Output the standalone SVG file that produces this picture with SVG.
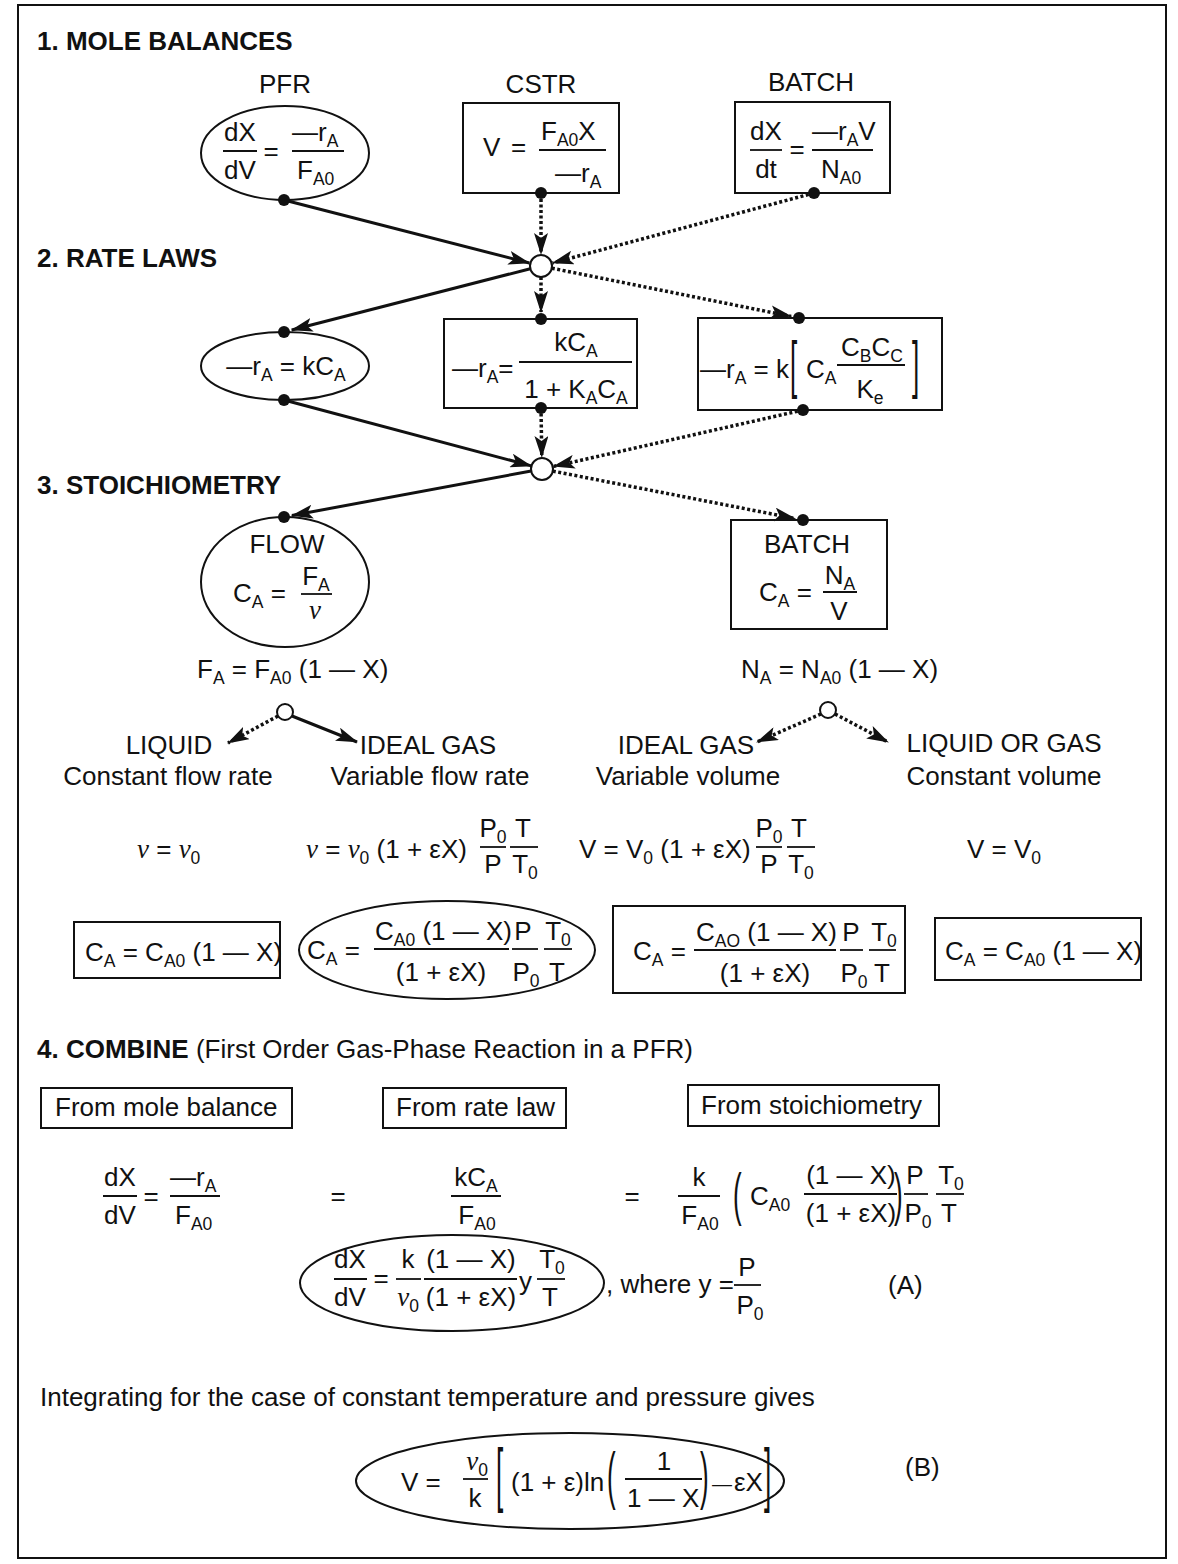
<svg xmlns="http://www.w3.org/2000/svg" width="1178" height="1564" viewBox="0 0 1178 1564">
<style>
text{font-family:"Liberation Sans",Arial,sans-serif;font-size:26px;fill:#111}
.b{font-weight:bold}
.m{text-anchor:middle}
.s{font-size:17.5px}
.v{font-family:"Liberation Serif","Times New Roman",serif;font-style:italic;font-size:27px}
.ln{stroke:#111;stroke-width:2;fill:none}
.fr{stroke:#111;stroke-width:1.8}
.sol{stroke:#111;stroke-width:3;fill:none}
.dot{stroke:#111;stroke-width:3.5;stroke-dasharray:3 2.5;fill:none}
.jn{fill:#fff;stroke:#111;stroke-width:2}
.pt{fill:#111}
</style>
<defs>
<marker id="ah" viewBox="0 0 22 14" refX="21" refY="7" markerWidth="22" markerHeight="14" markerUnits="userSpaceOnUse" orient="auto">
<path d="M0,0 L22,7 L0,14 L5,7 z" fill="#111"/>
</marker>
</defs>
<rect x="0" y="0" width="1178" height="1564" fill="#fff"/>
<rect x="18" y="5" width="1148" height="1553" class="ln"/>

<g id="headers">
<text class="b" x="37" y="50">1. MOLE BALANCES</text>
<text class="b" x="37" y="267">2. RATE LAWS</text>
<text class="b" x="37" y="494">3. STOICHIOMETRY</text>
<text x="37" y="1058"><tspan class="b">4. COMBINE</tspan> (First Order Gas-Phase Reaction in a PFR)</text>
</g>

<g id="connectors">
<line class="sol" x1="284" y1="200" x2="529.4" y2="263" marker-end="url(#ah)"/>
<line class="dot" x1="541" y1="199" x2="541" y2="254" marker-end="url(#ah)"/>
<line class="dot" x1="814" y1="193" x2="552.6" y2="262.9" marker-end="url(#ah)"/>
<line class="sol" x1="530.3" y1="268.7" x2="291.7" y2="330" marker-end="url(#ah)"/>
<line class="dot" x1="541" y1="277" x2="541" y2="312" marker-end="url(#ah)"/>
<line class="dot" x1="551.8" y1="268.2" x2="791.2" y2="316.4" marker-end="url(#ah)"/>
<line class="sol" x1="284" y1="400" x2="531.4" y2="465.9" marker-end="url(#ah)"/>
<line class="dot" x1="541" y1="408" x2="541.8" y2="457" marker-end="url(#ah)"/>
<line class="dot" x1="803" y1="410" x2="553.7" y2="466.4" marker-end="url(#ah)"/>
<line class="sol" x1="531.2" y1="471" x2="291.9" y2="515.5" marker-end="url(#ah)"/>
<line class="dot" x1="552.8" y1="471.1" x2="795.1" y2="518.5" marker-end="url(#ah)"/>
<line class="dot" x1="278" y1="716" x2="228" y2="743" marker-end="url(#ah)"/>
<line class="sol" x1="292" y1="716" x2="357" y2="742" marker-end="url(#ah)"/>
<line class="dot" x1="821" y1="714" x2="757" y2="742" marker-end="url(#ah)"/>
<line class="dot" x1="835" y1="714" x2="888" y2="742" marker-end="url(#ah)"/>
</g>

<g id="mb-pfr">
<text class="m" x="285" y="93">PFR</text>
<ellipse cx="285" cy="153" rx="84" ry="47" class="ln"/>
<text class="m" x="240" y="141">dX</text>
<line x1="223" y1="151" x2="257" y2="151" class="fr"/>
<text class="m" x="240" y="179">dV</text>
<text class="m" x="271" y="160">=</text>
<text x="292" y="141">—r<tspan class="s" dy="6">A</tspan></text>
<line x1="292" y1="151" x2="344" y2="151" class="fr"/>
<text x="297" y="179">F<tspan class="s" dy="6">A0</tspan></text>
<circle cx="284" cy="200" r="6" class="pt"/>
</g>

<g id="mb-cstr">
<text class="m" x="541" y="93">CSTR</text>
<rect x="463" y="103" width="156" height="90" class="ln"/>
<text x="483" y="156">V</text>
<text x="511" y="156">=</text>
<text x="541" y="140">F<tspan class="s" dy="6">A0</tspan><tspan dy="-6">X</tspan></text>
<line x1="539" y1="150" x2="606" y2="150" class="fr"/>
<text x="555" y="182">—r<tspan class="s" dy="6">A</tspan></text>
<circle cx="541" cy="193" r="6" class="pt"/>
</g>

<g id="mb-batch">
<text class="m" x="811" y="91">BATCH</text>
<rect x="735" y="102" width="155" height="91" class="ln"/>
<text class="m" x="766" y="140">dX</text>
<line x1="750" y1="150" x2="782" y2="150" class="fr"/>
<text class="m" x="766" y="178">dt</text>
<text class="m" x="797" y="158">=</text>
<text x="812" y="140">—r<tspan class="s" dy="6">A</tspan><tspan dy="-6">V</tspan></text>
<line x1="812" y1="150" x2="873" y2="150" class="fr"/>
<text x="821" y="178">N<tspan class="s" dy="6">A0</tspan></text>
<circle cx="814" cy="193" r="6" class="pt"/>
</g>

<g id="junction-1"><circle cx="541" cy="266" r="11" class="jn"/></g>

<g id="rl-first">
<ellipse cx="285" cy="366" rx="84" ry="34" class="ln"/>
<text class="m" x="286" y="375">—r<tspan class="s" dy="6">A</tspan><tspan dy="-6"> = kC</tspan><tspan class="s" dy="6">A</tspan></text>
<circle cx="284" cy="332" r="6" class="pt"/>
<circle cx="284" cy="400" r="6" class="pt"/>
</g>

<g id="rl-langmuir">
<rect x="444" y="319" width="193" height="89" class="ln"/>
<text x="452" y="377">—r<tspan class="s" dy="6">A</tspan><tspan dy="-6">=</tspan></text>
<text class="m" x="576" y="351">kC<tspan class="s" dy="6">A</tspan></text>
<line x1="519" y1="362" x2="632" y2="362" class="fr"/>
<text class="m" x="576" y="398">1 + K<tspan class="s" dy="6">A</tspan><tspan dy="-6">C</tspan><tspan class="s" dy="6">A</tspan></text>
<circle cx="541" cy="319" r="6" class="pt"/>
<circle cx="541" cy="408" r="6" class="pt"/>
</g>

<g id="rl-reversible">
<rect x="698" y="318" width="244" height="92" class="ln"/>
<text x="700" y="378">—r<tspan class="s" dy="6">A</tspan><tspan dy="-6"> = k</tspan></text>
<text transform="translate(790,386) scale(1,2.45)">[</text>
<text x="806" y="378">C<tspan class="s" dy="6">A</tspan></text>
<line x1="837" y1="365" x2="905" y2="365" class="fr"/>
<text class="m" x="872" y="356">C<tspan class="s" dy="6">B</tspan><tspan dy="-6">C</tspan><tspan class="s" dy="6">C</tspan></text>
<text class="m" x="870" y="398">K<tspan class="s" dy="6">e</tspan></text>
<text transform="translate(912,386) scale(1,2.45)">]</text>
<circle cx="799" cy="318" r="6" class="pt"/>
<circle cx="803" cy="410" r="6" class="pt"/>
</g>

<g id="junction-2"><circle cx="542" cy="469" r="11" class="jn"/></g>

<g id="st-flow">
<ellipse cx="285" cy="582" rx="84" ry="65" class="ln"/>
<text class="m" x="287" y="553">FLOW</text>
<text x="233" y="602">C<tspan class="s" dy="6">A</tspan><tspan dy="-6"> =</tspan></text>
<text class="m" x="316" y="585">F<tspan class="s" dy="6">A</tspan></text>
<line x1="301" y1="594" x2="332" y2="594" class="fr"/>
<text class="m v" x="315" y="619">v</text>
<circle cx="284" cy="517" r="6" class="pt"/>
<text x="197" y="678">F<tspan class="s" dy="6">A</tspan><tspan dy="-6"> = F</tspan><tspan class="s" dy="6">A0</tspan><tspan dy="-6"> (1 — X)</tspan></text>
</g>

<g id="st-batch">
<rect x="731" y="520" width="156" height="109" class="ln"/>
<text class="m" x="807" y="553">BATCH</text>
<text x="759" y="601">C<tspan class="s" dy="6">A</tspan><tspan dy="-6"> =</tspan></text>
<text class="m" x="840" y="584">N<tspan class="s" dy="6">A</tspan></text>
<line x1="823" y1="592" x2="857" y2="592" class="fr"/>
<text class="m" x="839" y="620">V</text>
<circle cx="803" cy="520" r="6" class="pt"/>
<text x="741" y="678">N<tspan class="s" dy="6">A</tspan><tspan dy="-6"> = N</tspan><tspan class="s" dy="6">A0</tspan><tspan dy="-6"> (1 — X)</tspan></text>
</g>

<g id="junction-3"><circle cx="285" cy="712" r="8" class="jn"/></g>
<g id="junction-4"><circle cx="828" cy="710" r="8" class="jn"/></g>

<g id="liquid-flow">
<text class="m" x="169" y="754">LIQUID</text>
<text class="m" x="168" y="785">Constant flow rate</text>
<text x="137" y="858"><tspan class="v">v</tspan> = <tspan class="v">v</tspan><tspan class="s" dy="6">0</tspan></text>
<rect x="74" y="922" width="206" height="56" class="ln"/>
<text x="85" y="961">C<tspan class="s" dy="6">A</tspan><tspan dy="-6"> = C</tspan><tspan class="s" dy="6">A0</tspan><tspan dy="-6"> (1 — X)</tspan></text>
</g>

<g id="gas-flow">
<text class="m" x="428" y="754">IDEAL GAS</text>
<text class="m" x="430" y="785">Variable flow rate</text>
<text x="306" y="858"><tspan class="v">v</tspan> = <tspan class="v">v</tspan><tspan class="s" dy="6">0</tspan><tspan dy="-6"> (1 + εX)</tspan></text>
<text class="m" x="493" y="837">P<tspan class="s" dy="6">0</tspan></text>
<line x1="480" y1="847" x2="506" y2="847" class="fr"/>
<text class="m" x="493" y="873">P</text>
<text class="m" x="523" y="837">T</text>
<line x1="510" y1="847" x2="538" y2="847" class="fr"/>
<text class="m" x="525" y="873">T<tspan class="s" dy="6">0</tspan></text>
<ellipse cx="447" cy="950" rx="148" ry="49" class="ln"/>
<text x="307" y="959">C<tspan class="s" dy="6">A</tspan><tspan dy="-6"> =</tspan></text>
<text x="375" y="940">C<tspan class="s" dy="6">A0</tspan><tspan dy="-6"> (1 — X)</tspan></text>
<line x1="374" y1="949" x2="509" y2="949" class="fr"/>
<text class="m" x="441" y="981">(1 + εX)</text>
<text class="m" x="523" y="940">P</text>
<line x1="512" y1="949" x2="538" y2="949" class="fr"/>
<text class="m" x="526" y="981">P<tspan class="s" dy="6">0</tspan></text>
<text class="m" x="558" y="940">T<tspan class="s" dy="6">0</tspan></text>
<line x1="544" y1="949" x2="572" y2="949" class="fr"/>
<text class="m" x="557" y="981">T</text>
</g>

<g id="gas-batch">
<text class="m" x="686" y="754">IDEAL GAS</text>
<text class="m" x="688" y="785">Variable volume</text>
<text x="579" y="858">V = V<tspan class="s" dy="6">0</tspan><tspan dy="-6"> (1 + εX)</tspan></text>
<text class="m" x="769" y="837">P<tspan class="s" dy="6">0</tspan></text>
<line x1="756" y1="847" x2="782" y2="847" class="fr"/>
<text class="m" x="769" y="873">P</text>
<text class="m" x="799" y="837">T</text>
<line x1="787" y1="847" x2="815" y2="847" class="fr"/>
<text class="m" x="801" y="873">T<tspan class="s" dy="6">0</tspan></text>
<rect x="613" y="906" width="292" height="87" class="ln"/>
<text x="633" y="960">C<tspan class="s" dy="6">A</tspan><tspan dy="-6"> =</tspan></text>
<text x="696" y="941">C<tspan class="s" dy="6">AO</tspan><tspan dy="-6"> (1 — X)</tspan></text>
<line x1="694" y1="950" x2="836" y2="950" class="fr"/>
<text class="m" x="765" y="982">(1 + εX)</text>
<text class="m" x="851" y="941">P</text>
<line x1="840" y1="950" x2="863" y2="950" class="fr"/>
<text class="m" x="854" y="982">P<tspan class="s" dy="6">0</tspan></text>
<text class="m" x="884" y="941">T<tspan class="s" dy="6">0</tspan></text>
<line x1="869" y1="950" x2="896" y2="950" class="fr"/>
<text class="m" x="882" y="982">T</text>
</g>

<g id="liquid-batch">
<text class="m" x="1004" y="752">LIQUID OR GAS</text>
<text class="m" x="1004" y="785">Constant volume</text>
<text x="967" y="858">V = V<tspan class="s" dy="6">0</tspan></text>
<rect x="935" y="918" width="206" height="62" class="ln"/>
<text x="945" y="960">C<tspan class="s" dy="6">A</tspan><tspan dy="-6"> = C</tspan><tspan class="s" dy="6">A0</tspan><tspan dy="-6"> (1 — X)</tspan></text>
</g>

<g id="from-mole-balance">
<rect x="41" y="1088" width="251" height="40" class="ln"/>
<text x="55" y="1116">From mole balance</text>
</g>
<g id="from-rate-law">
<rect x="383" y="1088" width="183" height="40" class="ln"/>
<text x="396" y="1116">From rate law</text>
</g>
<g id="from-stoichiometry">
<rect x="688" y="1085" width="251" height="41" class="ln"/>
<text x="701" y="1114">From stoichiometry</text>
</g>

<g id="combine-row">
<text class="m" x="120" y="1186">dX</text>
<line x1="103" y1="1196" x2="137" y2="1196" class="fr"/>
<text class="m" x="120" y="1224">dV</text>
<text class="m" x="151" y="1205">=</text>
<text x="170" y="1186">—r<tspan class="s" dy="6">A</tspan></text>
<line x1="170" y1="1196" x2="220" y2="1196" class="fr"/>
<text x="175" y="1224">F<tspan class="s" dy="6">A0</tspan></text>
<text class="m" x="338" y="1205">=</text>
<text class="m" x="476" y="1186">kC<tspan class="s" dy="6">A</tspan></text>
<line x1="451" y1="1196" x2="501" y2="1196" class="fr"/>
<text class="m" x="477" y="1224">F<tspan class="s" dy="6">A0</tspan></text>
<text class="m" x="632" y="1205">=</text>
<text class="m" x="699" y="1186">k</text>
<line x1="678" y1="1196" x2="720" y2="1196" class="fr"/>
<text class="m" x="700" y="1224">F<tspan class="s" dy="6">A0</tspan></text>
<text transform="translate(733,1214) scale(1,2.2)">(</text>
<text x="750" y="1205">C<tspan class="s" dy="6">A0</tspan></text>
<text class="m" x="851" y="1184">(1 — X)</text>
<line x1="804" y1="1194" x2="897" y2="1194" class="fr"/>
<text class="m" x="851" y="1222">(1 + εX)</text>
<text transform="translate(894,1214) scale(1,2.2)">)</text>
<text class="m" x="915" y="1184">P</text>
<line x1="904" y1="1194" x2="928" y2="1194" class="fr"/>
<text class="m" x="918" y="1222">P<tspan class="s" dy="6">0</tspan></text>
<text class="m" x="951" y="1184">T<tspan class="s" dy="6">0</tspan></text>
<line x1="936" y1="1194" x2="964" y2="1194" class="fr"/>
<text class="m" x="949" y="1222">T</text>
</g>

<g id="equation-a">
<ellipse cx="452" cy="1283" rx="152" ry="48" class="ln"/>
<text class="m" x="350" y="1268">dX</text>
<line x1="334" y1="1279" x2="367" y2="1279" class="fr"/>
<text class="m" x="350" y="1306">dV</text>
<text class="m" x="381" y="1287">=</text>
<text class="m" x="408" y="1268">k</text>
<line x1="396" y1="1279" x2="421" y2="1279" class="fr"/>
<text class="m" x="408" y="1306"><tspan class="v">v</tspan><tspan class="s" dy="6">0</tspan></text>
<text class="m" x="471" y="1268">(1 — X)</text>
<line x1="424" y1="1279" x2="517" y2="1279" class="fr"/>
<text class="m" x="471" y="1306">(1 + εX)</text>
<text x="519" y="1290">y</text>
<text class="m" x="552" y="1268">T<tspan class="s" dy="6">0</tspan></text>
<line x1="537" y1="1279" x2="565" y2="1279" class="fr"/>
<text class="m" x="550" y="1306">T</text>
<text x="606" y="1293">, where y =</text>
<text class="m" x="747" y="1276">P</text>
<line x1="734" y1="1285" x2="761" y2="1285" class="fr"/>
<text class="m" x="750" y="1314">P<tspan class="s" dy="6">0</tspan></text>
<text x="888" y="1294">(A)</text>
</g>

<text id="integrating" x="40" y="1406">Integrating for the case of constant temperature and pressure gives</text>

<g id="equation-b">
<ellipse cx="570" cy="1481" rx="214" ry="48" class="ln"/>
<text x="401" y="1491">V =</text>
<text class="m" x="477" y="1470"><tspan class="v">v</tspan><tspan class="s" dy="6">0</tspan></text>
<line x1="463" y1="1479" x2="488" y2="1479" class="fr"/>
<text class="m" x="475" y="1507">k</text>
<text transform="translate(496,1498) scale(1,2.7)">[</text>
<text x="511" y="1491">(1 + ε)ln</text>
<text transform="translate(607,1497) scale(1,2.45)">(</text>
<text class="m" x="664" y="1470">1</text>
<line x1="625" y1="1479" x2="702" y2="1479" class="fr"/>
<text x="627" y="1507">1 — X</text>
<text transform="translate(700,1497) scale(1,2.45)">)</text>
<text x="712" y="1491" style="font-size:20px">—</text>
<text x="734" y="1491">εX</text>
<text transform="translate(764,1498) scale(1,2.7)">]</text>
<text x="905" y="1476">(B)</text>
</g>
</svg>
